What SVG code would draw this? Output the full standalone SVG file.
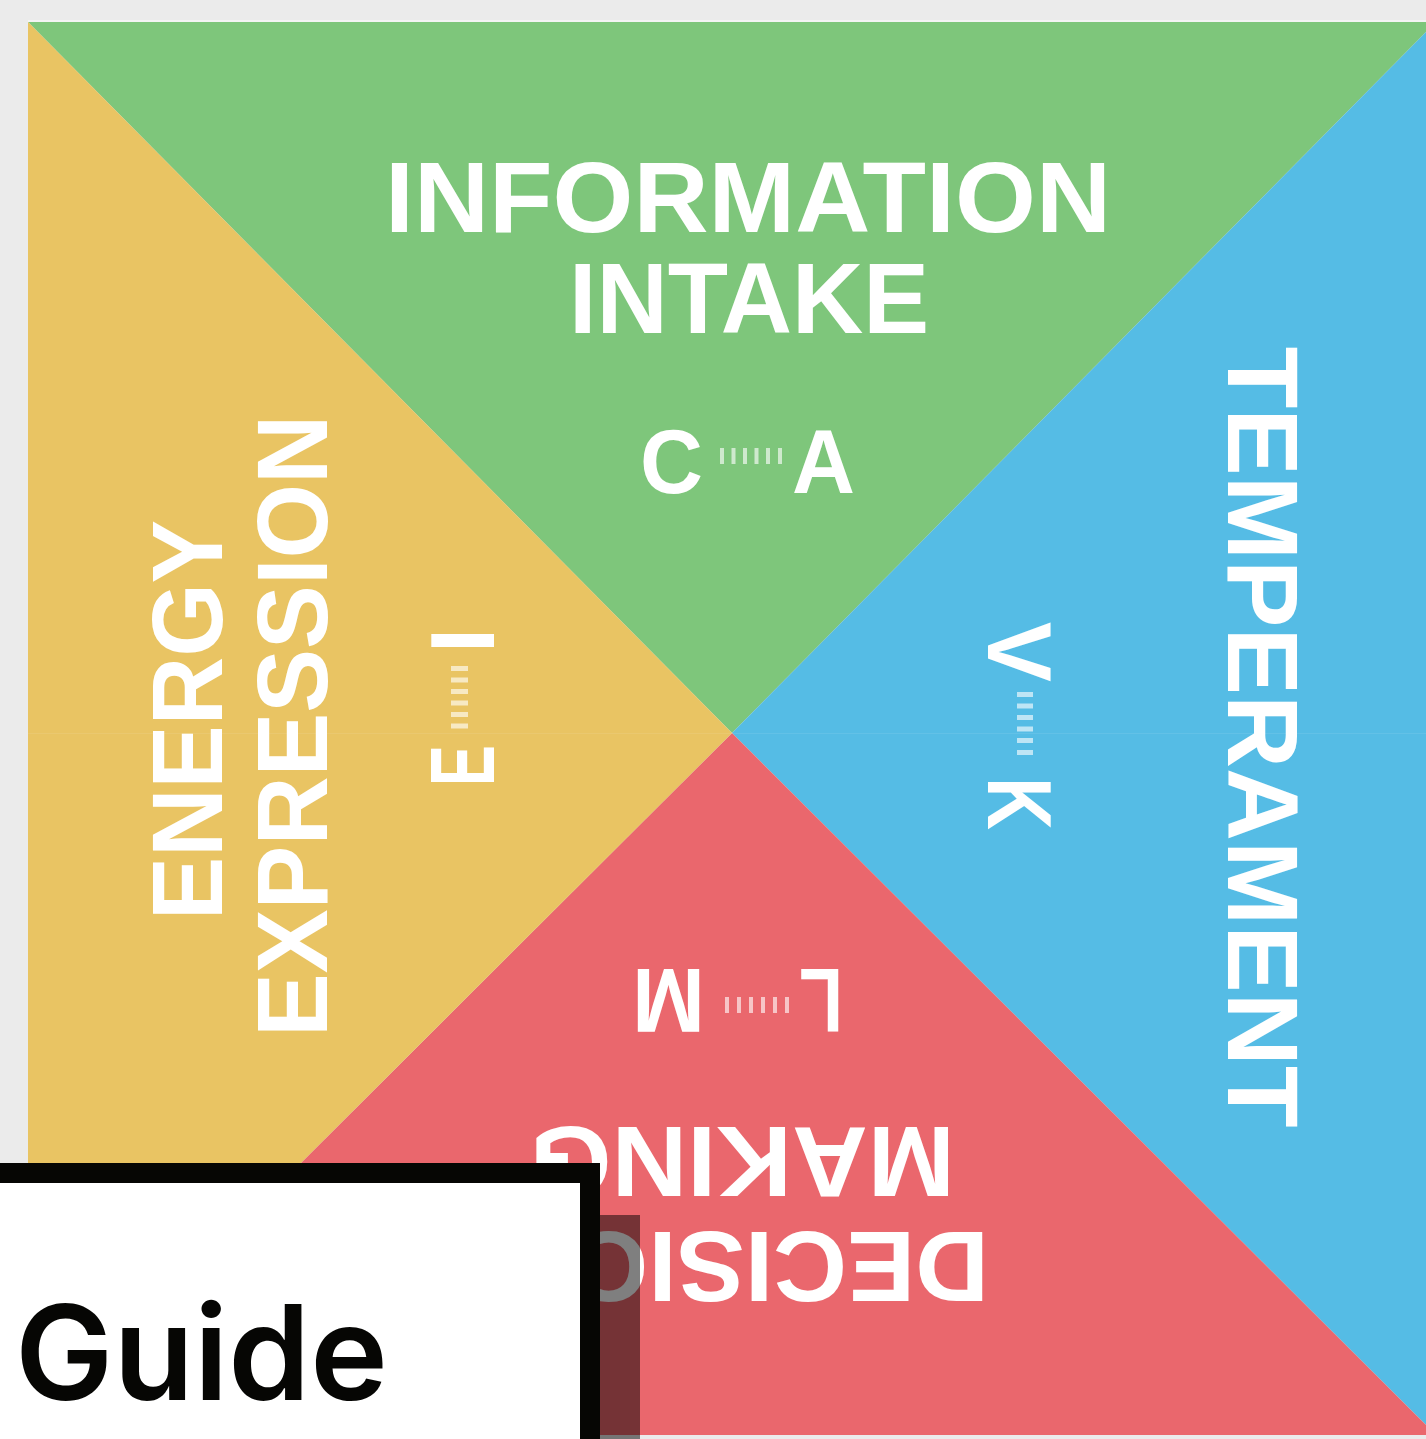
<svg xmlns="http://www.w3.org/2000/svg" width="1426" height="1439" viewBox="0 0 1426 1439">
  <style>
    .lbl { font-family: "Liberation Sans", Arial, sans-serif; font-weight: 700; fill: #ffffff; text-anchor: middle; }
    .big { font-size: 101px; }
    .let { font-size: 90px; }
    .bar { fill: #ffffff; fill-opacity: 0.62; }
  </style>
  <rect x="0" y="0" width="1426" height="1439" fill="#ebebeb"/>
  <line x1="28" y1="21" x2="1426" y2="21" stroke="#f7f7f7" stroke-width="1.5"/>
  <g id="quadrants">
    <polygon id="green" points="28,22 1436,22 732,733" fill="#7ec67b"/>
    <polygon id="blue" points="1436,22 1436,1435 732,733" fill="#55bce5"/>
    <polygon id="red" points="1436,1435 28,1435 732,733" fill="#ea676d"/>
    <polygon id="yellow" points="28,1435 28,22 732,733" fill="#e9c463"/>
    <line x1="28" y1="733.5" x2="1426" y2="733.5" stroke="#ffffff" stroke-opacity="0.08" stroke-width="1"/>
  </g>

  <g id="information-intake">
    <text class="lbl big" x="748" y="232" textLength="726" lengthAdjust="spacingAndGlyphs">INFORMATION</text>
    <text class="lbl big" x="749" y="333" textLength="360" lengthAdjust="spacingAndGlyphs">INTAKE</text>
    <text class="lbl let" x="671.5" y="493" textLength="63" lengthAdjust="spacingAndGlyphs">C</text>
    <text class="lbl let" x="823.5" y="493" textLength="63" lengthAdjust="spacingAndGlyphs">A</text>
    <rect class="bar" x="720" y="448" width="4" height="16"/>
    <rect class="bar" x="731.5" y="448" width="4" height="16"/>
    <rect class="bar" x="743" y="448" width="4" height="16"/>
    <rect class="bar" x="754.5" y="448" width="4" height="16"/>
    <rect class="bar" x="766" y="448" width="4" height="16"/>
    <rect class="bar" x="778" y="448" width="4" height="16"/>
  </g>

  <g id="energy-expression">
    <text class="lbl big" transform="translate(222,720) rotate(-90)" x="0" y="0" textLength="400" lengthAdjust="spacingAndGlyphs">ENERGY</text>
    <text class="lbl big" transform="translate(327,726) rotate(-90)" x="0" y="0" textLength="622" lengthAdjust="spacingAndGlyphs">EXPRESSION</text>
    <text class="lbl let" transform="translate(494,765.5) rotate(-90)" x="0" y="0" textLength="41" lengthAdjust="spacingAndGlyphs">E</text>
    <text class="lbl let" transform="translate(494,640.5) rotate(-90)" x="0" y="0">I</text>
    <rect class="bar" x="451" y="666" width="17" height="5"/>
    <rect class="bar" x="451" y="677.5" width="17" height="5"/>
    <rect class="bar" x="451" y="689" width="17" height="5"/>
    <rect class="bar" x="451" y="700.5" width="17" height="5"/>
    <rect class="bar" x="451" y="712" width="17" height="5"/>
    <rect class="bar" x="451" y="723.5" width="17" height="5"/>
  </g>

  <g id="temperament">
    <text class="lbl big" transform="translate(1228,737) rotate(90)" x="0" y="0" textLength="781" lengthAdjust="spacingAndGlyphs">TEMPERAMENT</text>
    <text class="lbl let" transform="translate(988,652) rotate(90)" x="0" y="0" textLength="60" lengthAdjust="spacingAndGlyphs">V</text>
    <text class="lbl let" transform="translate(988,803.5) rotate(90)" x="0" y="0" textLength="53" lengthAdjust="spacingAndGlyphs">K</text>
    <rect class="bar" x="1017" y="692" width="16" height="5"/>
    <rect class="bar" x="1017" y="703.5" width="16" height="5"/>
    <rect class="bar" x="1017" y="715" width="16" height="5"/>
    <rect class="bar" x="1017" y="726.5" width="16" height="5"/>
    <rect class="bar" x="1017" y="738" width="16" height="5"/>
    <rect class="bar" x="1017" y="750" width="16" height="5"/>
  </g>

  <g id="decision-making">
    <text class="lbl big" transform="translate(742.5,1127) rotate(180)" x="0" y="0" textLength="425" lengthAdjust="spacingAndGlyphs">MAKING</text>
    <text class="lbl big" transform="translate(742,1232) rotate(180)" x="0" y="0" textLength="494" lengthAdjust="spacingAndGlyphs">DECISION</text>
    <text class="lbl let" transform="translate(668.5,969) rotate(180)" x="0" y="0" textLength="73" lengthAdjust="spacingAndGlyphs">M</text>
    <text class="lbl let" transform="translate(821,969) rotate(180)" x="0" y="0" textLength="44" lengthAdjust="spacingAndGlyphs">L</text>
    <rect class="bar" x="725" y="997" width="4" height="16"/>
    <rect class="bar" x="737" y="997" width="4" height="16"/>
    <rect class="bar" x="749" y="997" width="4" height="16"/>
    <rect class="bar" x="761" y="997" width="4" height="16"/>
    <rect class="bar" x="773" y="997" width="4" height="16"/>
    <rect class="bar" x="785" y="997" width="4" height="16"/>
  </g>

  <g id="guide-card">
    <rect x="-40" y="1173" width="630" height="320" fill="#ffffff" stroke="#060604" stroke-width="20"/>
    <text x="15" y="1400" font-family="Inter, 'Liberation Sans', Arial, sans-serif" font-weight="600" font-size="132" fill="#060604" textLength="373" lengthAdjust="spacingAndGlyphs">Guide</text>
    <rect x="600" y="1215" width="40" height="224" fill="#000000" fill-opacity="0.5"/>
  </g>
</svg>
